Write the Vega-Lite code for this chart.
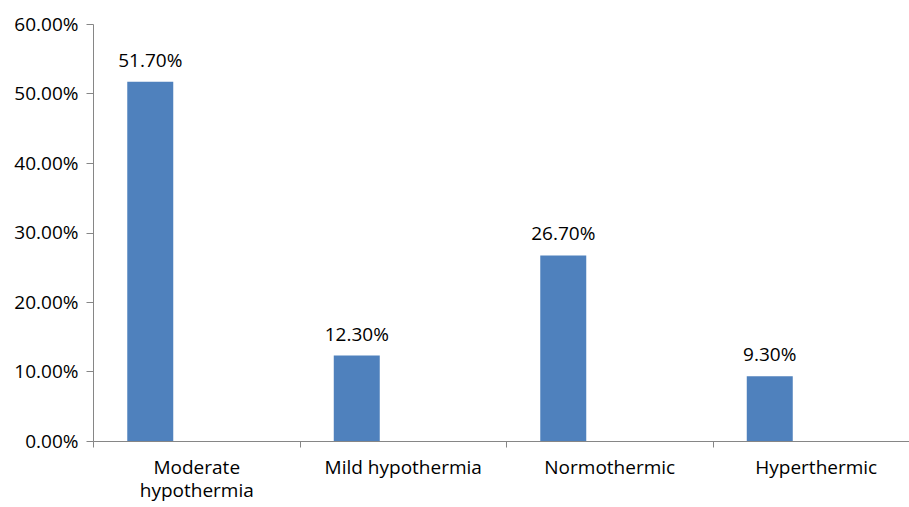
{
  "$schema": "https://vega.github.io/schema/vega-lite/v6.json",
  "autosize": "none",
  "width": 814,
  "height": 417,
  "padding": {"left": 93, "top": 24, "right": 2, "bottom": 66},
  "background": "white",
  "config": {"view": {"stroke": null}, "font": "Open Sans"},
  "data": {"values": [
    {"category": "Moderate hypothermia", "series": "A", "value": 0.517},
    {"category": "Mild hypothermia", "series": "A", "value": 0.123},
    {"category": "Normothermic", "series": "A", "value": 0.267},
    {"category": "Hyperthermic", "series": "A", "value": 0.093}
  ]},
  "encoding": {
    "x": {
      "field": "category", "type": "nominal", "sort": null,
      "scale": {"paddingInner": 0, "paddingOuter": 0, "range": [0, 826]},
      "axis": {
        "title": null, "labelAngle": 0, "labelFont": "Open Sans", "labelFontSize": 19,
        "labelColor": "#000000", "labelPadding": 11, "labelLineHeight": 23,
        "labelExpr": "datum.value == 'Moderate hypothermia' ? ['Moderate', 'hypothermia'] : datum.value",
        "tickBand": "extent", "tickSize": 6, "tickColor": "#868686", "domainColor": "#868686",
        "grid": false, "labelBaseline": "top"
      }
    },
    "xOffset": {
      "field": "series", "type": "nominal",
      "scale": {"domain": ["A", "B", "C"], "paddingOuter": 0.745, "paddingInner": 0}
    },
    "y": {
      "field": "value", "type": "quantitative",
      "scale": {"domain": [0, 0.6], "nice": false},
      "axis": {
        "title": null, "format": ".2%", "values": [0, 0.1, 0.2, 0.3, 0.4, 0.5, 0.6],
        "labelFont": "Open Sans", "labelFontSize": 19, "labelColor": "#000000",
        "labelPadding": 8, "tickSize": 7, "tickColor": "#868686", "domainColor": "#868686",
        "grid": false
      }
    }
  },
  "layer": [
    {"mark": {"type": "bar", "color": "#4F81BD"}},
    {
      "mark": {"type": "text", "baseline": "alphabetic", "dy": -15, "fontSize": 19, "font": "Open Sans", "color": "#000000"},
      "encoding": {"text": {"field": "value", "type": "quantitative", "format": ".2%"}}
    }
  ]
}
